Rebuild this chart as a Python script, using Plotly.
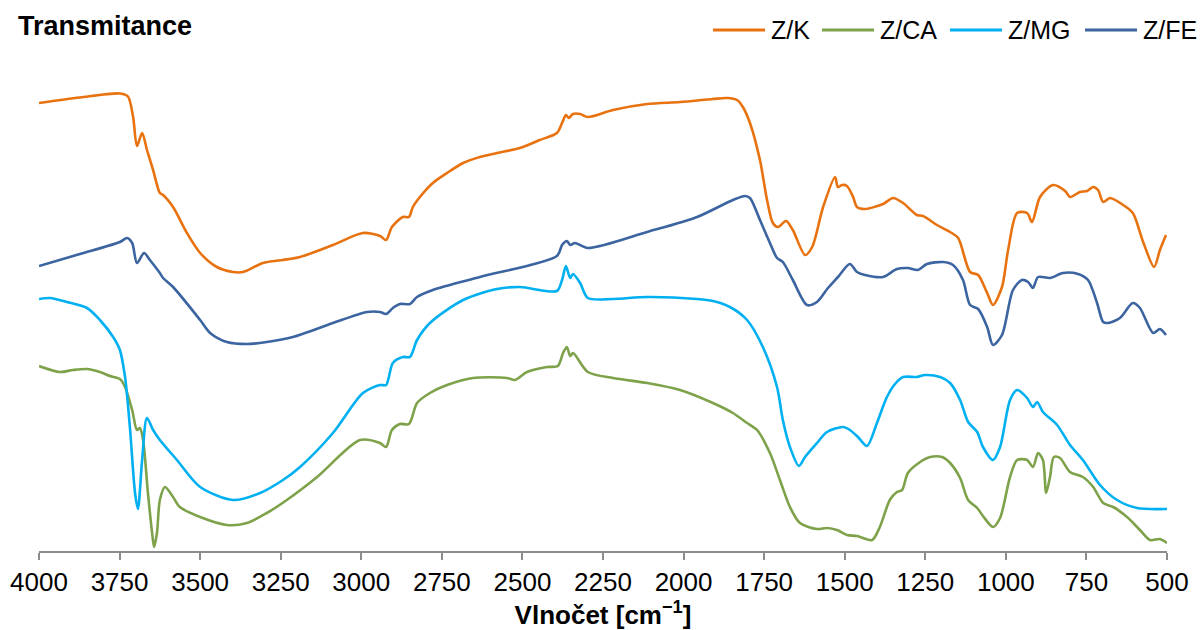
import plotly.graph_objects as go

# ---------------- data ----------------
series_names = ["Z/K", "Z/CA", "Z/MG", "Z/FE"]
series_colors = ["#E8720F", "#7EA24A", "#00B0F0", "#3B64A0"]

zk_wn = [4000, 3873, 3749, 3724, 3708, 3696, 3680, 3665, 3646, 3625, 3615, 3584, 3541, 3500,
         3448, 3398, 3367, 3305, 3243, 3190, 3088, 2995, 2942, 2923, 2905, 2871, 2852, 2840,
         2818, 2778, 2734, 2684, 2632, 2579, 2508, 2446, 2393, 2377, 2365, 2356, 2343, 2321,
         2297, 2219, 2113, 2011, 1909, 1865, 1834, 1816, 1794, 1763, 1741, 1723, 1707, 1682,
         1661, 1623, 1601, 1567, 1530, 1521, 1508, 1493, 1474, 1462, 1437, 1381, 1350, 1319,
         1276, 1257, 1214, 1173, 1148, 1111, 1086, 1058, 1040, 1012, 993, 965, 934, 919, 894,
         854, 816, 801, 770, 748, 729, 714, 698, 677, 636, 606, 574, 540, 522, 503]
zk_t = [89.6, 90.7, 91.5, 90.9, 86.8, 81.0, 83.6, 80.2, 76.2, 71.6, 71.2, 68.8, 63.6, 59.6,
        56.8, 55.8, 55.8, 57.6, 58.2, 58.8, 61.2, 63.6, 63.0, 62.2, 64.8, 66.8, 66.8, 68.8,
        70.8, 73.6, 75.6, 77.6, 78.8, 79.6, 80.6, 82.2, 83.6, 85.6, 87.2, 86.6, 87.4, 87.4,
        86.8, 88.2, 89.4, 89.8, 90.4, 90.6, 90.2, 88.8, 85.6, 78.2, 70.2, 65.6, 64.8, 66.0,
        64.2, 59.2, 60.8, 68.8, 74.8, 72.8, 73.2, 73.0, 70.8, 68.8, 68.4, 69.4, 70.6, 69.6,
        67.2, 67.0, 65.2, 63.8, 62.6, 55.8, 55.2, 51.6, 49.2, 52.8, 60.2, 67.6, 67.6, 65.8, 70.8,
        73.2, 72.0, 70.8, 71.8, 72.0, 72.8, 72.2, 69.8, 70.6, 69.2, 67.6, 61.8, 56.8, 60.2, 63.2]

zca_wn = [4000, 3935, 3895, 3851, 3811, 3780, 3749, 3733, 3711, 3696, 3687, 3677, 3662, 3649,
          3643, 3634, 3625, 3609, 3584, 3563, 3500, 3417, 3355, 3293, 3231, 3137, 3004, 2942,
          2923, 2905, 2880, 2852, 2827, 2787, 2734, 2653, 2548, 2523, 2486, 2424, 2390, 2374,
          2362, 2352, 2343, 2297, 2219, 2113, 2011, 1909, 1847, 1803, 1772, 1732, 1701, 1670,
          1639, 1586, 1555, 1524, 1493, 1462, 1415, 1391, 1360, 1338, 1322, 1304, 1266, 1235,
          1198, 1173, 1142, 1117, 1089, 1071, 1040, 1018, 987, 965, 934, 916, 900, 885, 875,
          863, 851, 832, 801, 761, 729, 698, 667, 624, 584, 553, 522, 500]
zca_t = [37.0, 35.8, 36.2, 36.4, 35.8, 35.0, 34.4, 32.8, 28.2, 24.2, 24.6, 22.2, 11.6, 3.6,
         0.8, 3.6, 10.2, 12.8, 10.8, 8.8, 6.8, 5.2, 5.6, 7.6, 10.2, 14.8, 22.2, 21.6,
         20.8, 24.2, 25.4, 25.4, 29.6, 31.6, 33.2, 34.6, 34.6, 34.2, 35.8, 36.8, 37.0, 39.6,
         40.8, 39.0, 39.6, 35.8, 34.6, 33.6, 32.2, 29.6, 27.6, 25.6, 24.2, 19.6, 14.2, 8.8,
         5.6, 4.4, 4.6, 4.2, 3.2, 3.0, 2.2, 4.8, 10.2, 11.8, 12.2, 15.6, 17.8, 18.8,
         18.8, 17.6, 14.6, 10.2, 8.6, 7.0, 4.8, 6.6, 14.8, 18.2, 18.2, 16.8, 19.6, 18.2, 11.6,
         14.8, 18.8, 18.6, 15.8, 14.8, 12.8, 9.6, 8.8, 6.8, 4.2, 2.2, 2.4, 1.6]

zmg_wn = [4000, 3966, 3913, 3851, 3811, 3770, 3749, 3733, 3718, 3702, 3693, 3680, 3665, 3646,
          3625, 3572, 3500, 3398, 3314, 3243, 3190, 3088, 2995, 2942, 2923, 2902, 2871, 2849,
          2827, 2787, 2684, 2579, 2508, 2393, 2377, 2365, 2352, 2343, 2321, 2297, 2219, 2113,
          1958, 1909, 1856, 1803, 1754, 1710, 1692, 1670, 1642, 1623, 1586, 1555, 1505, 1484,
          1459, 1431, 1400, 1369, 1344, 1319, 1276, 1251, 1204, 1173, 1142, 1117, 1089, 1071,
          1040, 1018, 987, 965, 934, 916, 903, 885, 841, 801, 761, 708, 655, 593, 500]
zmg_t = [50.4, 50.6, 49.8, 48.6, 46.2, 42.8, 40.2, 34.8, 24.8, 11.6, 8.4, 18.2, 26.6, 24.2,
         22.2, 18.2, 12.8, 10.2, 11.6, 14.2, 16.8, 23.6, 31.6, 33.2, 33.2, 37.6, 38.8, 38.8,
         42.2, 45.6, 50.2, 52.4, 52.8, 52.0, 54.2, 57.0, 54.6, 55.4, 53.6, 50.6, 50.4, 50.8,
         50.4, 50.0, 48.8, 46.2, 40.8, 32.8, 26.2, 20.8, 17.0, 18.8, 21.6, 23.8, 24.8, 24.2,
         22.8, 21.0, 25.6, 30.8, 33.4, 34.8, 34.8, 35.2, 34.8, 33.6, 30.2, 25.8, 23.8, 20.8,
         18.2, 20.8, 30.2, 32.2, 30.6, 28.8, 29.8, 27.8, 25.2, 21.2, 18.2, 13.2, 10.2, 8.6, 8.4]

zfe_wn = [4000, 3873, 3749, 3727, 3711, 3696, 3674, 3656, 3625, 3615, 3584, 3500, 3469, 3417,
          3355, 3293, 3212, 3088, 2982, 2942, 2923, 2902, 2880, 2849, 2827, 2778, 2632, 2393,
          2377, 2362, 2352, 2337, 2297, 2113, 1958, 1847, 1809, 1794, 1763, 1732, 1710, 1692,
          1661, 1617, 1586, 1552, 1521, 1484, 1462, 1437, 1381, 1338, 1304, 1273, 1245, 1195,
          1164, 1133, 1111, 1086, 1058, 1040, 1012, 978, 950, 931, 916, 900, 863, 823, 776,
          745, 717, 698, 683, 646, 606, 584, 543, 522, 503]
zfe_t = [57.0, 59.4, 61.8, 62.6, 61.6, 57.6, 59.6, 58.2, 55.6, 54.6, 52.8, 46.2, 43.6, 41.8,
         41.4, 41.8, 42.8, 45.6, 47.8, 47.8, 47.4, 48.6, 49.4, 49.4, 50.8, 52.2, 54.8, 59.0,
         61.2, 62.0, 61.2, 61.6, 60.6, 63.8, 66.8, 70.2, 71.0, 70.6, 66.2, 61.6, 58.6, 57.8,
         54.2, 49.2, 49.8, 52.6, 54.8, 57.4, 55.8, 55.2, 54.8, 56.4, 56.6, 56.2, 57.4, 57.8,
         57.2, 54.2, 49.2, 48.4, 44.8, 41.2, 43.2, 52.2, 54.2, 53.8, 52.6, 54.8, 54.6, 55.6, 55.4,
         54.2, 49.6, 45.8, 45.6, 46.6, 49.6, 48.6, 43.6, 44.4, 43.2]

x_ticks = [4000, 3750, 3500, 3250, 3000, 2750, 2500, 2250, 2000, 1750, 1500, 1250, 1000, 750, 500]
chart_title = "Transmitance"
x_title = "Vlnočet [cm<sup>−1</sup>]"

# ---------------- figure ----------------
FONT = "Liberation Sans, Arial, Helvetica, sans-serif"
all_x = [zk_wn, zca_wn, zmg_wn, zfe_wn]
all_y = [zk_t, zca_t, zmg_t, zfe_t]

fig = go.Figure()
for name, color, xs, ys in zip(series_names, series_colors, all_x, all_y):
    fig.add_trace(go.Scatter(
        x=xs, y=ys, name=name, mode="lines",
        line=dict(color=color, width=2.6, shape="spline", smoothing=0.8),
        showlegend=False,
    ))

# manual legend (top right), as in the reference
leg_x0 = [713, 822, 950, 1085]
W, H = 1202, 630
L, R, T, B = 39, 35, 40, 79
pw = W - L - R
ph = H - T - B
for name, color, x0 in zip(series_names, series_colors, leg_x0):
    xa = (x0 - L) / pw
    xb = (x0 + 52 - L) / pw
    yy = 1 + (T - 30) / ph
    fig.add_shape(type="line", xref="paper", yref="paper", x0=xa, x1=xb, y0=yy, y1=yy,
                  line=dict(color=color, width=3))
    fig.add_annotation(xref="paper", yref="paper", x=(x0 + 56 - L) / pw, y=yy,
                       xanchor="left", yanchor="middle", text=name, showarrow=False,
                       font=dict(family=FONT, size=25, color="#000000"))

fig.update_layout(
    width=W, height=H,
    margin=dict(l=L, r=R, t=T, b=B, autoexpand=False),
    paper_bgcolor="white", plot_bgcolor="white",
    font=dict(family=FONT, color="#000000"),
    title=dict(text="<b>" + chart_title + "</b>", xref="container", yref="container",
               x=18 / W, y=1 - 26 / H, xanchor="left", yanchor="middle",
               font=dict(family=FONT, size=27, color="#000000")),
    xaxis=dict(
        range=[4000, 500], tickvals=x_ticks, ticktext=[str(v) for v in x_ticks],
        automargin=False,
        showgrid=False, zeroline=False, showline=True, linecolor="#8C8C8C", linewidth=2,
        ticks="outside", ticklen=7, tickcolor="#8C8C8C", tickwidth=1.5,
        tickfont=dict(family=FONT, size=26, color="#000000"),
        title=dict(text="<b>" + x_title + "</b>", standoff=6,
                   font=dict(family=FONT, size=26, color="#000000")),
    ),
    yaxis=dict(range=[0, ph / 5], visible=False, showgrid=False, zeroline=False),
)

fig.write_html("out.html", config={"displayModeBar": False},
               post_script="document.body.style.margin='0';document.body.style.padding='0';"
                           "document.body.style.overflow='hidden';")
